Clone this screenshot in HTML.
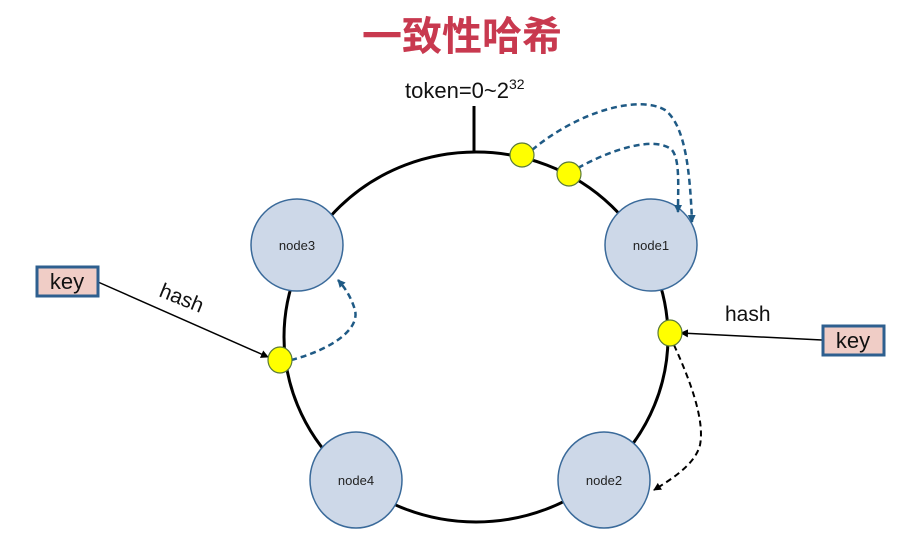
<!DOCTYPE html>
<html><head><meta charset="utf-8"><style>
body{margin:0;background:#fff;}
svg{display:block}
text{font-family:"Liberation Sans","DejaVu Sans",sans-serif;}
</style></head><body>
<svg width="901" height="542" viewBox="0 0 901 542" xmlns="http://www.w3.org/2000/svg">
<defs>
<marker id="ab" markerWidth="8" markerHeight="8" refX="7" refY="4" orient="auto" markerUnits="userSpaceOnUse"><path d="M0,0 L8,4 L0,8 z" fill="#1f5a85"/></marker>
<marker id="ak" markerWidth="8" markerHeight="8" refX="7" refY="4" orient="auto" markerUnits="userSpaceOnUse"><path d="M0,0 L8,4 L0,8 z" fill="#000"/></marker>
</defs>
<text x="462" y="50" text-anchor="middle" font-family="'Noto Sans CJK SC',sans-serif" font-weight="bold" font-size="40" fill="#c8394f" style="font-family:'Noto Sans CJK SC','WenQuanYi Zen Hei',sans-serif">一致性哈希</text>
<text x="405" y="98" font-size="22" fill="#111">token=0~2<tspan font-size="14" dy="-9">32</tspan></text>
<line x1="474" y1="106" x2="474" y2="153" stroke="#000" stroke-width="3"/>
<ellipse cx="476" cy="337" rx="192" ry="185" fill="none" stroke="#000" stroke-width="3"/>
<g fill="#cdd8e8" stroke="#3a6a9a" stroke-width="1.5">
<circle cx="297" cy="245" r="46"/>
<circle cx="651" cy="245" r="46"/>
<ellipse cx="356" cy="480" rx="46" ry="48"/>
<ellipse cx="604" cy="480" rx="46" ry="48"/>
</g>
<g font-size="13" fill="#222" text-anchor="middle">
<text x="297" y="250">node3</text><text x="651" y="250">node1</text>
<text x="356" y="485">node4</text><text x="604" y="485">node2</text>
</g>
<g fill="none" stroke="#1f5a85" stroke-width="2.5" stroke-dasharray="6,4">
<path d="M532,150 C580,110 640,95 665,110 C685,125 690,170 692,222" marker-end="url(#ab)"/>
<path d="M578,168 C610,150 655,135 672,150 C680,160 678,185 678,212" marker-end="url(#ab)"/>
<path d="M291,360 C330,350 360,330 355,310 C352,300 347,290 338,280" marker-end="url(#ab)"/>
</g>
<path d="M674,345 C690,380 705,420 700,445 C695,465 670,480 654,490" fill="none" stroke="#000" stroke-width="2" stroke-dasharray="6,4" marker-end="url(#ak)"/>
<line x1="98" y1="282" x2="268" y2="357" stroke="#000" stroke-width="1.5" marker-end="url(#ak)"/>
<line x1="822" y1="340" x2="681" y2="333" stroke="#000" stroke-width="1.5" marker-end="url(#ak)"/>
<g fill="#ffff00" stroke="#5a7a3a" stroke-width="1.2">
<circle cx="522" cy="155" r="12"/>
<circle cx="569" cy="174" r="12"/>
<ellipse cx="280" cy="360" rx="12" ry="13"/>
<ellipse cx="670" cy="333" rx="12" ry="13"/>
</g>
<rect x="37" y="267" width="61" height="29" fill="#f0cdc6" stroke="#2e5f8f" stroke-width="3"/>
<text x="67" y="289" font-size="22" text-anchor="middle" fill="#111">key</text>
<rect x="823" y="326" width="61" height="29" fill="#f0cdc6" stroke="#2e5f8f" stroke-width="3"/>
<text x="853" y="348" font-size="22" text-anchor="middle" fill="#111">key</text>
<text x="158" y="296" font-size="21" fill="#111" transform="rotate(22 158 296)">hash</text>
<text x="725" y="321" font-size="21" fill="#111">hash</text>
</svg>
</body></html>
